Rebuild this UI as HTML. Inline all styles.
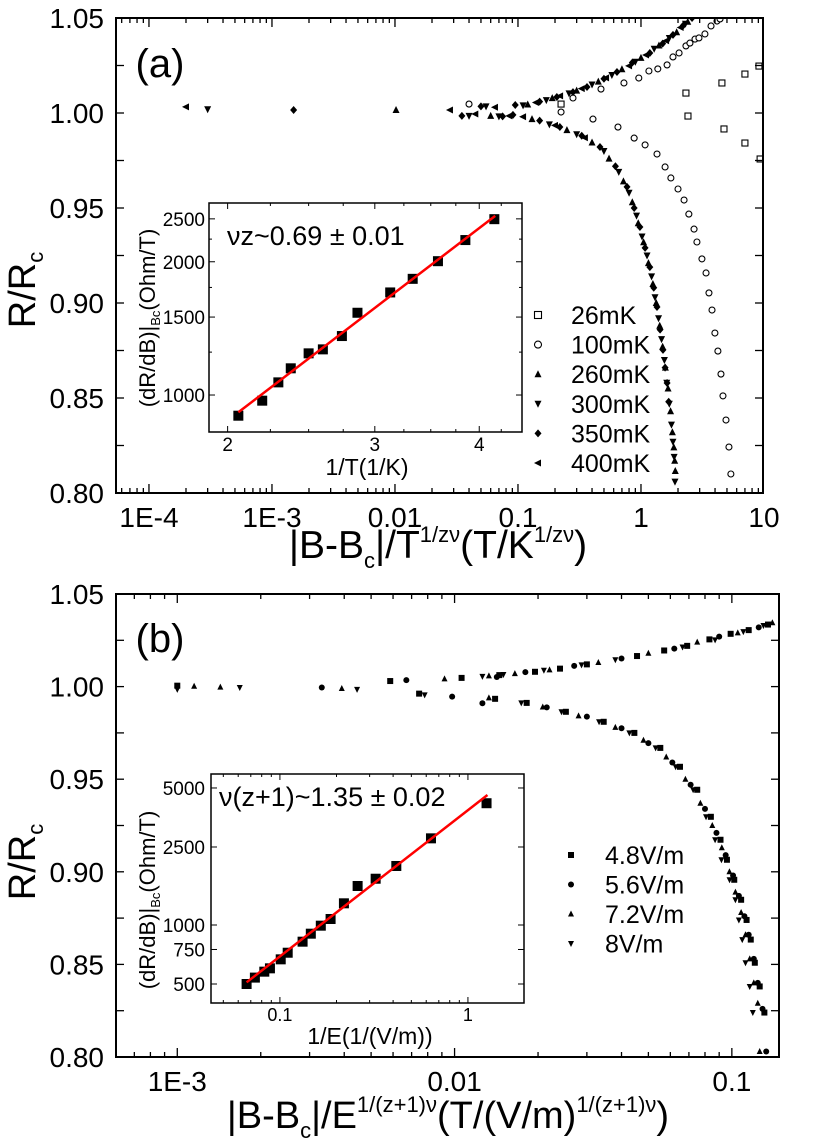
<!DOCTYPE html>
<html><head><meta charset="utf-8"><title>Scaling plots</title>
<style>
html,body{margin:0;padding:0;background:#fff;}
svg{display:block;font-family:"Liberation Sans",Arial,sans-serif;}
</style></head>
<body>
<svg id="fig" width="830" height="1144" viewBox="0 0 830 1144" xmlns="http://www.w3.org/2000/svg">
<defs>
<clipPath id="clipA"><rect x="116" y="18" width="647" height="475"/></clipPath>
<clipPath id="clipB"><rect x="116" y="594" width="663" height="463"/></clipPath>
</defs>
<g id="layer"></g>
</svg>
<script>
// ---------- Panel (a) data ----------
const aNames = ["26mK","100mK","260mK","300mK","350mK","400mK"];
const aShapes = ["sqOpen","circOpen","triUp","triDown","diamond","triLeft"];
const a26 = [[0.224,1.0047],[2.32,1.0105],[2.41,0.9984],[4.55,1.0158],[4.73,0.9916],[7.0,1.0205],[7.0,0.9842],[9.1,1.0247],[9.3,0.9758]];
const a100 = [[0.040,1.0047],[0.224,1.0005],[0.28,1.0079],[0.473,1.0126],[0.727,1.0158],[0.96,1.0184],[1.16,1.0221],[1.37,1.0232],[1.63,1.0253],[1.82,1.0295],[2.04,1.0316],[2.32,1.0353],[2.50,1.0368],[2.75,1.0389],[2.96,1.0395],[3.31,1.0416],[3.71,1.0458],[4.15,1.0484],[4.39,1.0495],
 [0.407,0.9968],[0.65,0.9926],[0.88,0.9868],[1.08,0.9832],[1.35,0.9784],[1.57,0.9716],[1.75,0.9658],[2.0,0.96],[2.24,0.9542],[2.45,0.9468],[2.70,0.9389],[2.85,0.9321],[3.13,0.9232],[3.38,0.9158],[3.57,0.9053],[3.78,0.8963],[3.99,0.8842],[4.22,0.8747],[4.47,0.8626],[4.64,0.8511],[4.91,0.8384],[5.19,0.8242],[5.38,0.81]];
const a260 = [[0.0102,1.0016],[0.06,0.9985],[0.12,1.0045],[0.19,1.0078],[0.30,1.0118],[0.45,1.0165],[0.7,1.023],[1.0,1.029],[1.4,1.0355],[1.95,1.0425],[2.4,1.048],
 [0.13,0.9968],[0.25,0.991],[0.4,0.9845],[0.55,0.976],[0.72,0.964],[0.85,0.953],[0.95,0.942],[1.05,0.932],[1.15,0.921],[1.25,0.910],[1.33,0.900],[1.42,0.888],[1.50,0.877],[1.58,0.866],[1.66,0.855],[1.74,0.843],[1.80,0.832],[1.85,0.824],[1.88,0.817],[1.90,0.8116]];
const a300 = [[3.0e-4,1.002],[0.04,0.9985],[0.055,1.0035],[0.11,1.004],[0.17,1.0068],[0.26,1.0103],[0.40,1.015],[0.58,1.020],[0.9,1.027],[1.28,1.0338],[1.7,1.0395],[2.3,1.047],
 [0.07,0.9982],[0.18,0.994],[0.30,0.9888],[0.5,0.980],[0.66,0.969],[0.8,0.958],[0.92,0.946],[1.02,0.935],[1.12,0.925],[1.22,0.914],[1.30,0.903],[1.39,0.892],[1.47,0.881],[1.55,0.870],[1.62,0.858],[1.70,0.847],[1.77,0.836],[1.82,0.827],[1.86,0.819],[1.89,0.806]];
const a350 = [[1.5e-3,1.0016],[0.035,0.9985],[0.05,1.0035],[0.075,0.9982],[0.095,1.0042],[0.15,1.006],[0.207,1.0084],[0.28,1.011],[0.364,1.0137],[0.5,1.018],[0.638,1.0216],[0.85,1.0265],[1.18,1.0316],[1.5,1.0365],[1.82,1.0411],[2.2,1.046],[2.6,1.05],
 [0.091,0.999],[0.15,0.996],[0.219,0.9926],[0.33,0.988],[0.464,0.9821],[0.62,0.972],[0.77,0.9611],[0.88,0.95],[0.98,0.94],[1.08,0.929],[1.18,0.9189],[1.27,0.908],[1.35,0.8979],[1.43,0.886],[1.51,0.8753],[1.57,0.866],[1.63,0.8579],[1.68,0.848]];
const a400 = [[2.0e-4,1.0032],[0.028,1.0016],[0.045,0.9995],[0.065,1.003],[0.085,0.9985],[0.14,1.0055],[0.22,1.009],[0.33,1.0128],[0.52,1.0185],[0.8,1.0248],[1.1,1.0305],[1.6,1.038],[2.1,1.045],
 [0.11,0.998],[0.2,0.9935],[0.35,0.987]];
const aSeries = [a26,a100,a260,a300,a350,a400];
const aXTicks = [1e-4,1e-3,0.01,0.1,1,10];
const aXTickLabels = ["1E-4","1E-3","0.01","0.1","1","10"];
const yTicks = [0.80,0.85,0.90,0.95,1.00,1.05];
const yTickLabels = ["0.80","0.85","0.90","0.95","1.00","1.05"];

// ---------- Inset (a) data ----------
const iaX = [2.06,2.20,2.30,2.38,2.50,2.60,2.74,2.86,3.13,3.33,3.57,3.85,4.17];
const iaY = [898,971,1068,1149,1242,1268,1359,1534,1705,1830,2006,2239,2496];
const iaFitX = [2.06,4.18];
const iaFitY = [914,2539];
const iaXTicks = [2,3,4];
const iaXTickLabels = ["2","3","4"];
const iaYTicks = [1000,1500,2000,2500];
const iaYTickLabels = ["1000","1500","2000","2500"];

// ---------- Panel (b) data ----------
const bNames = ["4.8V/m","5.6V/m","7.2V/m","8V/m"];
const bShapes = ["sq","circ","triUp","triDown"];
const b48 = [[1.0e-3,1.0005],[5.86e-3,1.003],[0.0106,1.0047],[0.0145,1.0062],[0.0195,1.008],[0.024,1.0097],[0.030,1.012],[0.0455,1.0165],[0.057,1.0195],[0.069,1.022],[0.083,1.0255],[0.099,1.0285],[0.115,1.0305],[0.135,1.0335],[0.152,1.0362],
 [7.45e-3,0.9962],[0.0140,0.9934],[0.0182,0.9912],[0.0252,0.9864],[0.0345,0.981],[0.0445,0.975],[0.0552,0.9669],[0.065,0.9567],[0.075,0.9443],[0.084,0.9297],[0.091,0.9173],[0.096,0.9065],[0.102,0.8957],[0.108,0.8849],[0.113,0.874],[0.117,0.8634],[0.121,0.8509],[0.126,0.8381],[0.131,0.824]];
const b56 = [[3.32e-3,0.9995],[6.7e-3,1.0035],[0.0142,1.0052],[0.0098,0.9946],[0.0126,0.991],[0.018,1.0078],[0.027,1.0112],[0.040,1.0152],[0.062,1.0205],[0.09,1.027],[0.125,1.032],
 [0.0215,0.9888],[0.030,0.9838],[0.040,0.9775],[0.050,0.9695],[0.061,0.959],[0.071,0.947],[0.080,0.934],[0.088,0.921],[0.095,0.909],[0.101,0.898],[0.106,0.887],[0.111,0.876],[0.115,0.866],[0.120,0.853],[0.124,0.840],[0.129,0.826],[0.133,0.803]];
const b72 = [[1.15e-3,1.0002],[1.43e-3,0.9997],[3.92e-3,0.999],[0.0092,1.0042],[0.0133,1.0058],[0.0165,1.007],[0.022,1.009],[0.033,1.013],[0.050,1.018],[0.075,1.024],[0.105,1.029],[0.14,1.0345],
 [0.0133,0.9939],[0.0208,0.989],[0.028,0.9842],[0.038,0.978],[0.048,0.971],[0.058,0.962],[0.068,0.950],[0.077,0.937],[0.085,0.925],[0.092,0.913],[0.098,0.900],[0.103,0.889],[0.108,0.878],[0.112,0.866],[0.116,0.853],[0.120,0.840],[0.124,0.829],[0.126,0.803]];
const b8 = [[1.0e-3,0.9985],[1.68e-3,0.9995],[4.45e-3,0.9985],[0.0126,1.0055],[0.015,1.0065],[0.021,1.0088],[0.0287,1.0117],[0.038,1.0145],[0.0664,1.0214],[0.087,1.0252],[0.11,1.0297],[0.13,1.033],
 [7.8e-3,0.9955],[0.0174,0.9912],[0.0243,0.9864],[0.0332,0.981],[0.0427,0.975],[0.0531,0.9669],[0.0627,0.9567],[0.0725,0.9443],[0.0807,0.9297],[0.087,0.9173],[0.0917,0.9065],[0.0981,0.8957],[0.103,0.8849],[0.106,0.874],[0.109,0.8634],[0.112,0.8509],[0.116,0.8381],[0.119,0.824]];
const bSeries = [b48,b56,b72,b8];
const bXTicks = [1e-3,0.01,0.1];
const bXTickLabels = ["1E-3","0.01","0.1"];

// ---------- Inset (b) data ----------
const ibX = [0.0665,0.0736,0.0826,0.0885,0.101,0.110,0.132,0.146,0.165,0.186,0.219,0.259,0.323,0.416,0.636,1.256];
const ibY = [500,539,578,601,668,722,822,903,992,1073,1290,1581,1722,2000,2767,4180];
const ibFitX = [0.0665,1.27];
const ibFitY = [510,4605];
const ibXTicks = [0.1,1];
const ibXTickLabels = ["0.1","1"];
const ibYTicks = [500,750,1000,2500,5000];
const ibYTickLabels = ["500","750","1000","2500","5000"];

// ---------- helpers ----------
const NS = "http://www.w3.org/2000/svg";
const layer = document.getElementById("layer");
function mk(tag, attrs, parent){
  const e = document.createElementNS(NS, tag);
  for (const k in attrs) e.setAttribute(k, attrs[k]);
  (parent||layer).appendChild(e);
  return e;
}
function logScale(d0,d1,r0,r1){ return v => r0 + (Math.log10(v)-d0)/(d1-d0)*(r1-r0); }
function linScale(d0,d1,r0,r1){ return v => r0 + (v-d0)/(d1-d0)*(r1-r0); }

function marker(g, shape, x, y, s){
  let e;
  const h = s/2;
  if (shape==="sq"||shape==="sqOpen"){
    e = mk("rect",{x:x-h,y:y-h,width:s,height:s},g);
  } else if (shape==="circ"||shape==="circOpen"){
    e = mk("circle",{cx:x,cy:y,r:h},g);
  } else if (shape==="triUp"){
    e = mk("polygon",{points:`${x},${y-h-0.5} ${x-h},${y+h-0.5} ${x+h},${y+h-0.5}`},g);
  } else if (shape==="triDown"){
    e = mk("polygon",{points:`${x},${y+h+0.5} ${x-h},${y-h+0.5} ${x+h},${y-h+0.5}`},g);
  } else if (shape==="triLeft"){
    e = mk("polygon",{points:`${x-h-0.5},${y} ${x+h-0.5},${y-h} ${x+h-0.5},${y+h}`},g);
  } else {
    e = mk("polygon",{points:`${x},${y-h-0.5} ${x+h},${y} ${x},${y+h+0.5} ${x-h},${y}`},g);
  }
  if (shape.indexOf("Open")>=0){ e.setAttribute("fill","#fff"); e.setAttribute("stroke","#000"); e.setAttribute("stroke-width","1.1"); }
  else { e.setAttribute("fill","#000"); }
  
  
  return e;
}

function frame(x0,y0,x1,y1,sw,name){
  const r = mk("rect",{x:x0,y:y0,width:x1-x0,height:y1-y0,fill:"none",stroke:"#000","stroke-width":sw});
  
  
}
function line(x1,y1,x2,y2,sw,color){
  return mk("line",{x1:x1,y1:y1,x2:x2,y2:y2,stroke:color||"#000","stroke-width":sw});
}
function text(x,y,str,size,anchor,name){
  const t = mk("text",{x:x,y:y,"font-size":size,"text-anchor":anchor||"middle",fill:"#000"});
  t.textContent = str;
  
  
  return t;
}

// main log-x axis ticks
function logXTicks(sx, lo, hi, yb, yt, major, minor){
  for (let d=lo; d<=hi; d++){
    for (let m=1; m<10; m++){
      const v = m*Math.pow(10,d);
      const x = sx(v);
      if (x<sx.lo-0.5 || x>sx.hi+0.5) continue;
      const L = m===1?major:minor;
      line(x,yb,x,yb-L,1.3); line(x,yt,x,yt+L,1.3);
    }
  }
}
function yLinTicks(sy, xl, xr, vals){
  vals.forEach(v=>{ const y = sy(v);
    line(xl,y,xl+8,y,1.3); line(xr,y,xr-8,y,1.3); });
}

// ================= PANEL A =================
(function(){
  const X0=116,X1=763,Y0=18,Y1=493;
  const sx = logScale(-4.268,0.992,X0,X1); sx.lo=X0; sx.hi=X1;
  const sy = linScale(0.80,1.05,Y1,Y0);
  const g = mk("g",{"clip-path":"url(#clipA)"});
  
  
  aSeries.forEach((ser,i)=>{
    const sg = mk("g",{},g);
    
    
    const s = aShapes[i]==="sqOpen"?6:(aShapes[i]==="circOpen"?6:7);
    ser.forEach(p=>marker(sg,aShapes[i],sx(p[0]),sy(p[1]),s));
  });
  frame(X0,Y0,X1,Y1,2,"panel-a-frame");
  logXTicks(sx,-5,1,Y1,Y0,9,5);
  yLinTicks(sy,X0,X1,[0.80,0.825,0.85,0.875,0.90,0.925,0.95,0.975,1.00,1.025,1.05].map(v=>v));
  yTicks.forEach((v,i)=>{ const t=text(104,sy(v)+10,yTickLabels[i],28,"end","y-tick-label"); });
  aXTicks.forEach((v,i)=>{ text(sx(v),527,aXTickLabels[i],28,"middle","x-tick-label"); });
  text(160,77,"(a)",40,"middle","panel-a-label");
  // y-axis title
  const yt = mk("text",{x:0,y:0,"font-size":38,"text-anchor":"middle",transform:"translate(35,290) rotate(-90)"});
  
  
  yt.innerHTML = 'R/R<tspan font-size="22" dy="8">c</tspan>';
  // x-axis title
  const xt = mk("text",{x:438,y:558,"font-size":39,"text-anchor":"middle"});
  
  
  xt.innerHTML = '|B-B<tspan font-size="22" dy="10">c</tspan><tspan dy="-10">|/T</tspan><tspan font-size="22" dy="-16">1/zν</tspan><tspan dy="16">(T/K</tspan><tspan font-size="22" dy="-16">1/zν</tspan><tspan dy="16">)</tspan>';
  // legend
  const lg = mk("g",{});
  
  
  aNames.forEach((n,i)=>{
    const y = 315 + i*29.6;
    const eg = mk("g",{},lg);
    
    
    marker(eg,aShapes[i],538,y,7);
    const t = mk("text",{x:571,y:y+9,"font-size":25},eg); t.textContent=n;
  });
})();

// ================= INSET A =================
(function(){
  const X0=209,X1=522,Y0=203,Y1=432;
  const sx = logScale(Math.log10(1.90),Math.log10(4.50),X0,X1);
  const sy = logScale(Math.log10(825),Math.log10(2715),Y1,Y0);
  const bg = mk("rect",{x:X0,y:Y0,width:X1-X0,height:Y1-Y0,fill:"#fff",stroke:"#000","stroke-width":1.5});
  
  
  [2,2.25,2.5,2.75,3,3.25,3.5,3.75,4,4.25,4.5].forEach(v=>{
    const x=sx(v); const L = Number.isInteger(v)?6:3;
    line(x,Y1,x,Y1-L,1); line(x,Y0,x,Y0+L,1);
  });
  [1000,1250,1500,1750,2000,2250,2500].forEach(v=>{
    const y=sy(v); const L = v%500===0?6:3;
    line(X0,y,X0+L,y,1); line(X1,y,X1-L,y,1);
  });
  iaXTicks.forEach((v,i)=>text(sx(v),451,iaXTickLabels[i],19,"middle","inset-a-x-tick"));
  iaYTicks.forEach((v,i)=>text(205,sy(v)+7,iaYTickLabels[i],19,"end","inset-a-y-tick"));
  const pg = mk("g",{});
  
  
  iaX.forEach((v,i)=>{
    const r = mk("rect",{x:sx(v)-5,y:sy(iaY[i])-5,width:10,height:10,fill:"#000"},pg);
    
    
  });
  const fl = line(sx(iaFitX[0]),sy(iaFitY[0]),sx(iaFitX[1]),sy(iaFitY[1]),2.5,"#ff0000");
  
  
  text(227,245,"νz~0.69 ± 0.01",27,"start","inset-a-annotation");
  text(367,475,"1/T(1/K)",23,"middle","inset-a-x-title");
  const yt = mk("text",{x:0,y:0,"font-size":22,"text-anchor":"middle",transform:"translate(155,318) rotate(-90)"});
  
  
  yt.innerHTML = '(dR/dB)|<tspan font-size="13" dy="5">Bc</tspan><tspan dy="-5">(Ohm/T)</tspan>';
})();

// ================= PANEL B =================
(function(){
  const X0=116,X1=779,Y0=594,Y1=1057;
  const sx = logScale(-3.221,-0.830,X0,X1); sx.lo=X0; sx.hi=X1;
  const sy = linScale(0.80,1.05,Y1,Y0);
  const g = mk("g",{"clip-path":"url(#clipB)"});
  
  
  bSeries.forEach((ser,i)=>{
    const sg = mk("g",{},g);
    
    
    ser.forEach(p=>marker(sg,bShapes[i],sx(p[0]),sy(p[1]),6));
  });
  frame(X0,Y0,X1,Y1,2,"panel-b-frame");
  logXTicks(sx,-4,0,Y1,Y0,9,5);
  yLinTicks(sy,X0,X1,[0.80,0.825,0.85,0.875,0.90,0.925,0.95,0.975,1.00,1.025,1.05]);
  yTicks.forEach((v,i)=>text(104,sy(v)+10,yTickLabels[i],28,"end","y-tick-label"));
  bXTicks.forEach((v,i)=>text(sx(v),1091,bXTickLabels[i],28,"middle","x-tick-label"));
  text(160,652,"(b)",40,"middle","panel-b-label");
  const yt = mk("text",{x:0,y:0,"font-size":38,"text-anchor":"middle",transform:"translate(35,862) rotate(-90)"});
  
  
  yt.innerHTML = 'R/R<tspan font-size="22" dy="8">c</tspan>';
  const xt = mk("text",{x:448,y:1128,"font-size":38,"text-anchor":"middle"});
  
  
  xt.innerHTML = '|B-B<tspan font-size="22" dy="10">c</tspan><tspan dy="-10">|/E</tspan><tspan font-size="22" dy="-16">1/(z+1)ν</tspan><tspan dy="16">(T/(V/m)</tspan><tspan font-size="22" dy="-16">1/(z+1)ν</tspan><tspan dy="16">)</tspan>';
  const lg = mk("g",{});
  
  
  bNames.forEach((n,i)=>{
    const y = 855 + i*29.5;
    const eg = mk("g",{},lg);
    
    
    marker(eg,bShapes[i],571,y,6);
    const t = mk("text",{x:605,y:y+9,"font-size":25},eg); t.textContent=n;
  });
})();

// ================= INSET B =================
(function(){
  const X0=211,X1=524,Y0=774,Y1=1003;
  const sx = logScale(Math.log10(0.043),Math.log10(1.987),X0,X1);
  const sy = logScale(Math.log10(400),Math.log10(5892),Y1,Y0);
  const bg = mk("rect",{x:X0,y:Y0,width:X1-X0,height:Y1-Y0,fill:"#fff",stroke:"#000","stroke-width":1.5});
  
  
  for (let d=-2; d<=0; d++) for (let m=1;m<10;m++){
    const v=m*Math.pow(10,d); const x=sx(v);
    if (x<X0||x>X1) continue;
    const L = m===1?6:3;
    line(x,Y1,x,Y1-L,1); line(x,Y0,x,Y0+L,1);
  }
  ibYTicks.forEach(v=>{ const y=sy(v); line(X0,y,X0+6,y,1); line(X1,y,X1-6,y,1); });
  ibXTicks.forEach((v,i)=>text(sx(v),1021,ibXTickLabels[i],18,"middle","inset-b-x-tick"));
  ibYTicks.forEach((v,i)=>text(205,sy(v)+7,ibYTickLabels[i],19,"end","inset-b-y-tick"));
  const pg = mk("g",{});
  
  
  ibX.forEach((v,i)=>{
    const r = mk("rect",{x:sx(v)-5,y:sy(ibY[i])-5,width:10,height:10,fill:"#000"},pg);
    
    
  });
  const fl = line(sx(ibFitX[0]),sy(ibFitY[0]),sx(ibFitX[1]),sy(ibFitY[1]),2.5,"#ff0000");
  
  
  text(219,806,"ν(z+1)~1.35 ± 0.02",27,"start","inset-b-annotation");
  text(370,1044,"1/E(1/(V/m))",23,"middle","inset-b-x-title");
  const yt = mk("text",{x:0,y:0,"font-size":22,"text-anchor":"middle",transform:"translate(155,900) rotate(-90)"});
  
  
  yt.innerHTML = '(dR/dB)|<tspan font-size="13" dy="5">Bc</tspan><tspan dy="-5">(Ohm/T)</tspan>';
})();
</script>
</body></html>
